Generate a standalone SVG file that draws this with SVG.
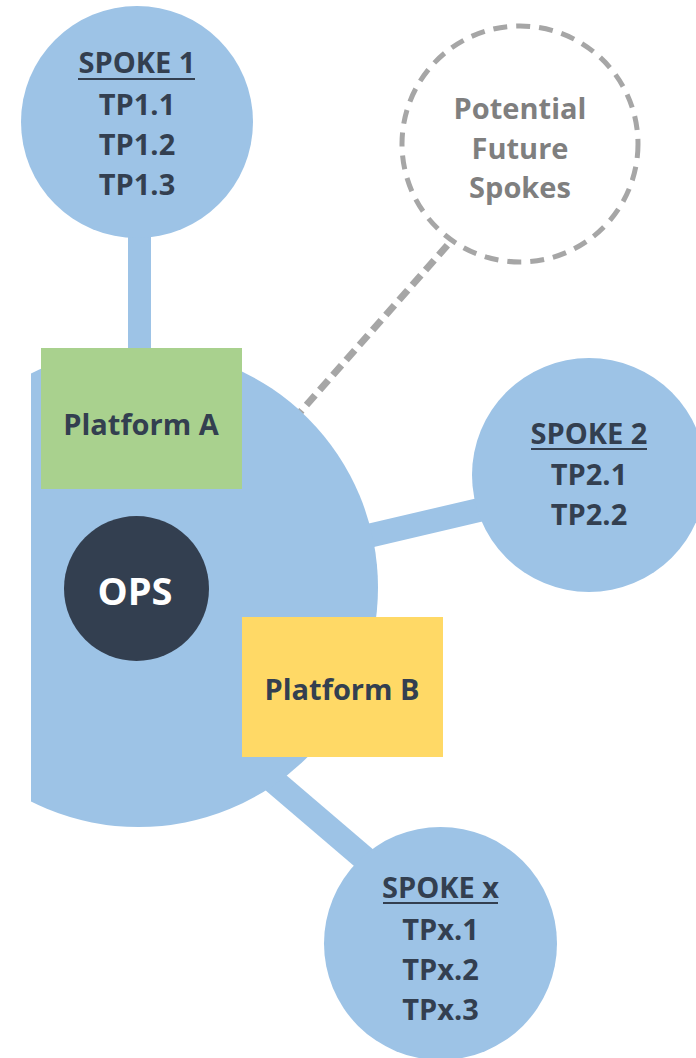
<svg xmlns="http://www.w3.org/2000/svg" width="696" height="1058" viewBox="0 0 696 1058">
<defs>
<style>
.spoke{fill:#9DC3E6}
.link{stroke:#9DC3E6;fill:none}
.t{font-family:"Open Sans","Liberation Sans",sans-serif;font-weight:bold;font-size:29px;fill:#333F50;text-anchor:middle}
.g{fill:#7F7F7F}
.ul{stroke:#333F50;stroke-width:2}
</style>
<clipPath id="clipHub"><rect x="31" y="0" width="665" height="1058"/></clipPath>
</defs>
<rect width="696" height="1058" fill="#FFFFFF"/>
<g id="connectors">
<line class="link" x1="139.5" y1="200" x2="139.5" y2="400" stroke-width="23"/>
<line class="link" x1="300" y1="552" x2="560" y2="491" stroke-width="24"/>
<line class="link" x1="220" y1="735" x2="440" y2="923" stroke-width="25"/>
<line x1="280" y1="435" x2="452" y2="240" stroke="#A6A6A6" stroke-width="7" stroke-dasharray="13 7"/>
</g>
<g id="hub">
<circle cx="138.5" cy="587.5" r="239.5" class="spoke" clip-path="url(#clipHub)"/>
</g>
<g id="spoke1">
<circle cx="137" cy="122" r="116" class="spoke"/>
<text class="t" x="137" y="73">SPOKE 1</text>
<line class="ul" x1="78" y1="79" x2="195" y2="79"/>
<text class="t" x="137" y="115">TP1.1</text>
<text class="t" x="137" y="155">TP1.2</text>
<text class="t" x="137" y="195">TP1.3</text>
</g>
<g id="future">
<circle cx="520" cy="144" r="118" fill="#FFFFFF" stroke="#A6A6A6" stroke-width="5" stroke-dasharray="14 9"/>
<text class="t g" x="520" y="119">Potential</text>
<text class="t g" x="520" y="159">Future</text>
<text class="t g" x="520" y="198">Spokes</text>
</g>
<g id="spoke2">
<circle cx="589" cy="475" r="117" class="spoke"/>
<text class="t" x="589" y="444">SPOKE 2</text>
<line class="ul" x1="531" y1="449" x2="647" y2="449"/>
<text class="t" x="589" y="485">TP2.1</text>
<text class="t" x="589" y="525">TP2.2</text>
</g>
<g id="spokex">
<circle cx="440.5" cy="943.5" r="116.5" class="spoke"/>
<text class="t" x="440.5" y="898">SPOKE x</text>
<line class="ul" x1="383" y1="903" x2="498" y2="903"/>
<text class="t" x="440.5" y="940">TPx.1</text>
<text class="t" x="440.5" y="980">TPx.2</text>
<text class="t" x="440.5" y="1020">TPx.3</text>
</g>
<g id="platformA">
<rect x="41" y="348" width="201" height="141" fill="#A9D18E"/>
<text class="t" x="141" y="435">Platform A</text>
</g>
<g id="ops">
<circle cx="136.5" cy="588.5" r="72.5" fill="#333F50"/>
<text class="t" x="135" y="605" style="font-size:38px;fill:#FFFFFF">OPS</text>
</g>
<g id="platformB">
<rect x="242" y="617" width="201" height="140" fill="#FFD966"/>
<text class="t" x="342" y="700">Platform B</text>
</g>
</svg>
